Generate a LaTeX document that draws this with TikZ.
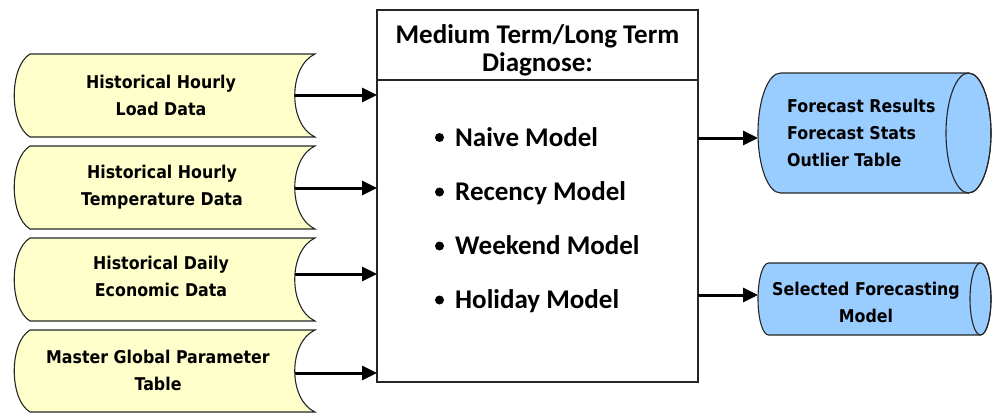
\documentclass[tikz,border=0pt]{standalone}
\usepackage{fontspec}
\usetikzlibrary{arrows.meta,calc}
\newfontfamily\datafont{DejaVu Sans}[FakeStretch=0.9]
\newfontfamily\boxfont{Carlito}
\definecolor{storefill}{HTML}{FFFFCC}
\definecolor{dbfill}{HTML}{99CCFF}
\definecolor{edge}{HTML}{262626}

% horizontal database cylinder: left centre x, right centre x, centre y, x radius, y radius
\newcommand\drawdb[5]{%
  \pgfmathsetmacro\kx{0.5523*#4}\pgfmathsetmacro\ky{0.5523*#5}%
  \filldraw[db] (#1,{#3-#5}) -- (#2,{#3-#5})
    .. controls ({#2+\kx},{#3-#5}) and ({#2+#4},{#3-\ky}) .. ({#2+#4},#3)
    .. controls ({#2+#4},{#3+\ky}) and ({#2+\kx},{#3+#5}) .. (#2,{#3+#5})
    -- (#1,{#3+#5})
    .. controls ({#1-\kx},{#3+#5}) and ({#1-#4},{#3+\ky}) .. ({#1-#4},#3)
    .. controls ({#1-#4},{#3-\ky}) and ({#1-\kx},{#3-#5}) .. cycle;
  \draw[db,fill=none] (#2,#3) ellipse [x radius=#4, y radius=#5];
}

\begin{document}
\begin{tikzpicture}[x=1pt,y=-1pt,
  stored/.style={fill=storefill, draw=edge, line width=1.1pt},
  db/.style={fill=dbfill, draw=edge, line width=1.1pt},
  frame/.style={inner sep=0pt, outer sep=0pt},
  datatext/.style={font=\datafont\bfseries\fontsize{17.6}{27}\selectfont, align=center, inner sep=0pt},
  boxtext/.style={font=\boxfont\bfseries\fontsize{27}{28}\selectfont, inner sep=0pt},
  flow/.style={line width=3pt, -{Triangle[length=15pt,width=14pt]}},
]
\useasboundingbox (0,0) rectangle (993,413);

% central process box with its header
\node[draw=edge, line width=1.4pt, minimum width=321, minimum height=372, frame] (box) at (537.5,196) {};
\draw[edge, line width=1.4pt] ($(box.north west)+(0,70)$) -- ($(box.north east)+(0,70)$);
\node[boxtext, align=center] (hdr) at (537.5,50) {Medium Term/Long Term\\Diagnose:};

% model list
\foreach \y/\txt [count=\i] in {146.2/Naive Model, 200.7/Recency Model, 254.7/Weekend Model, 308.7/Holiday Model} {
  \fill (439.5,{\y-8.7}) circle (4.5);
  \node[boxtext, anchor=base west] (m\i) at (455,\y) {\txt};
}

% stored-data inputs
\foreach \n/\t/\b/\ay in {1/54/137/95, 2/146/229/188, 3/238/321/274, 4/330/412/373} {
  \draw[stored] (30,\t) -- (315,\t)
    .. controls (288,{\t+0.15*(\b-\t)}) and (288,{\b-0.15*(\b-\t)}) .. (315,\b)
    -- (30,\b)
    .. controls (9,{\b-0.15*(\b-\t)}) and (9,{\t+0.15*(\b-\t)}) .. cycle;
  \coordinate (a\n) at (295,\ay);
  \draw[flow] (a\n) -- (a\n -| box.west);
}
\node[datatext] (s1) at (161,95.8) {Historical Hourly\\Load Data};
\node[datatext] (s2) at (162,187.5) {Historical Hourly\\Temperature Data};
\node[datatext] (s3) at (161,276.5) {Historical Daily\\Economic Data};
\node[datatext] (s4) at (158,370) {Master Global Parameter\\Table};

% output databases
\node[frame, minimum width=233, minimum height=120] (c1) at (874.5,133) {};
\node[frame, minimum width=233, minimum height=72] (c2) at (874.5,299) {};
\drawdb{780.5}{968.5}{133}{22.5}{60}
\drawdb{768.5}{980.5}{299}{10.5}{36}
\node[datatext, align=left, anchor=west] (r1) at (787,133) {Forecast Results\\Forecast Stats\\Outlier Table};
\node[datatext] (r2) at (866,302) {Selected Forecasting\\Model};

\coordinate (b1) at (698,138);
\coordinate (b2) at (698,295);
\draw[flow] (b1) -- (b1 -| c1.west);
\draw[flow] (b2) -- (b2 -| c2.west);
\end{tikzpicture}
\end{document}
